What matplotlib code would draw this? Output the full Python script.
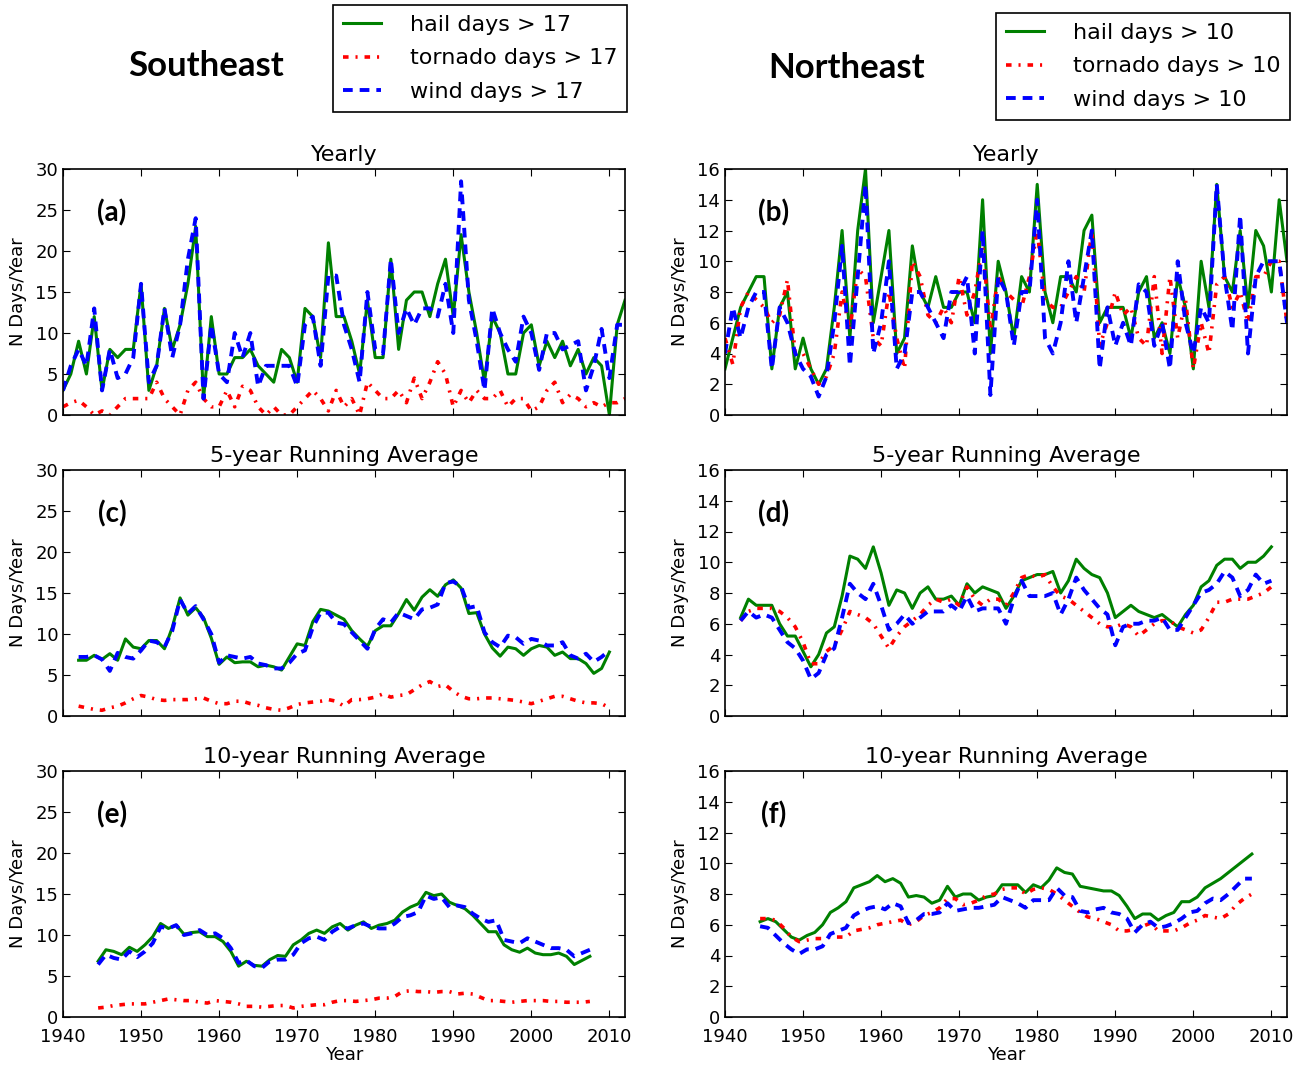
import matplotlib
matplotlib.use("Agg")
import matplotlib.pyplot as plt
import numpy as np

# ---- data -------------------------------------------------------------
years = np.arange(1940, 2013)            # yearly counts
years_5 = np.arange(1942, 2011)          # centred 5-year running mean
years_10 = np.arange(1944.5, 2008, 1.0)  # centred 10-year running mean

# Southeast, threshold 17
se_hail_yr = [3, 5, 9, 5, 12, 3, 8, 7, 8, 8,
              16, 3, 6, 13, 8, 11, 16, 23, 2, 12,
              5, 5, 7, 7, 8, 6, 5, 4, 8, 7,
              4, 13, 12, 7, 21, 12, 12, 9, 5, 14,
              7, 7, 19, 8, 14, 15, 15, 12, 16, 19,
              12, 22, 15, 10, 4, 12, 10, 5, 5, 10,
              11, 6, 9, 7, 9, 6, 8, 5, 7, 6,
              0, 11, 14]
se_torn_yr = [1, 1.5, 1.8, 1, 0, 0.5, 0, 1, 2, 2,
              2, 2, 4, 2, 1, 0, 3, 4, 2, 1,
              1, 3, 1, 3.5, 3, 1, 0, 1, 0, 0,
              1, 2, 3, 2, 0.5, 3, 1, 2, 0, 4,
              3, 2, 2, 3, 1.5, 4.5, 2, 4, 6.5, 5,
              1, 3, 1.5, 3, 2, 2, 3, 1, 2, 2,
              0.5, 1, 3, 4, 1.5, 2.5, 2, 1, 1.5, 1,
              1.5, 1.5, 2]
se_wind_yr = [3, 6, 8, 6, 13, 3, 8, 4.5, 5, 7,
              16, 4, 6, 13, 7, 11, 19, 24, 2, 11,
              5, 4, 10, 7, 10, 3.5, 6, 6, 6, 6,
              3.5, 11, 12, 6, 17, 17, 11, 8, 4, 15,
              8, 7.5, 19, 10, 13, 11, 13, 13, 12, 16,
              10, 28.5, 14, 9, 3, 13, 10, 8, 6.5, 12,
              10, 5.5, 10, 10, 8, 8.5, 9, 3, 6, 10.5,
              4.5, 11, 11]

se_hail_5 = [6.8, 6.8, 7.4, 6.9, 7.6, 6.8, 9.4, 8.4, 8.2, 9.2,
             9.2, 8.2, 10.8, 14.4, 12.3, 13.2, 12.0, 9.5, 6.3, 7.2,
             6.5, 6.6, 6.6, 6.0, 6.2, 6.0, 5.6, 7.2, 8.8, 8.6,
             11.5, 13.0, 12.8, 12.3, 11.8, 10.4, 9.4, 8.5, 10.4, 11.0,
             11.0, 12.5, 14.2, 12.9, 14.5, 15.4, 14.6, 16.0, 16.6, 15.6,
             12.5, 12.6, 10.0, 8.3, 7.3, 8.4, 8.2, 7.4, 8.2, 8.6,
             8.4, 7.4, 7.8, 7.0, 7.0, 6.4, 5.2, 5.8, 7.8]
se_torn_5 = [1.2, 1.0, 0.8, 0.7, 1.0, 1.2, 1.6, 2.1, 2.5, 2.3,
             2.0, 1.9, 2.0, 2.0, 2.0, 2.1, 2.2, 1.8, 1.5, 1.5,
             1.8, 1.8, 1.5, 1.3, 1.0, 0.8, 0.7, 1.0, 1.4, 1.6,
             1.7, 1.8, 2.0, 1.8, 1.2, 2.0, 2.0, 2.1, 2.3, 2.7,
             2.3, 2.5, 2.6, 3.2, 3.8, 4.2, 3.6, 3.8, 3.0, 2.4,
             2.1, 2.1, 2.2, 2.2, 2.1, 2.0, 1.9, 1.7, 1.5, 1.8,
             2.1, 2.4, 2.4, 2.1, 1.8, 1.6, 1.6, 1.5, 1.0]
se_wind_5 = [7.2, 7.2, 7.4, 6.9, 5.5, 7.7, 7.2, 7.0, 8.0, 9.2,
             9.0, 8.4, 10.4, 14.2, 12.5, 13.4, 11.8, 10.0, 6.5, 7.4,
             7.2, 7.0, 7.2, 6.4, 6.2, 5.8, 5.8, 6.5, 7.6, 8.0,
             10.8, 12.6, 12.6, 11.4, 11.2, 10.2, 9.2, 8.2, 10.6, 11.8,
             11.4, 12.6, 12.2, 11.8, 13.0, 13.2, 13.6, 16.2, 16.4, 15.8,
             13.2, 13.4, 10.2, 9.0, 8.4, 9.8, 9.6, 8.8, 9.4, 9.2,
             8.6, 8.6, 9.0, 7.4, 7.0, 7.6, 6.6, 7.2, 8.0]

se_hail_10 = [6.8, 8.2, 8.0, 7.6, 8.5, 8.0, 8.8, 9.8, 11.4, 10.8,
              11.2, 10.1, 10.3, 10.4, 9.8, 9.8, 9.2, 8.0, 6.2, 6.8,
              6.3, 6.2, 7.0, 7.5, 7.4, 8.8, 9.4, 10.2, 10.6, 10.2,
              11.0, 11.4, 10.6, 11.2, 11.6, 10.8, 11.2, 11.4, 11.8, 12.8,
              13.4, 13.8, 15.2, 14.8, 15.0, 14.0, 13.6, 13.2, 12.4, 11.4,
              10.4, 10.4, 8.8, 8.2, 7.9, 8.4, 7.8, 7.6, 7.6, 7.8,
              7.4, 6.4, 6.9, 7.4]
se_torn_10 = [1.1, 1.2, 1.4, 1.5, 1.6, 1.6, 1.6, 1.8, 2.0, 2.2,
              2.1, 2.0, 2.0, 1.8, 1.7, 2.0, 1.9, 1.8, 1.6, 1.3,
              1.3, 1.2, 1.3, 1.4, 1.4, 1.1, 1.3, 1.4, 1.5, 1.5,
              1.8, 2.0, 2.0, 1.9, 2.0, 2.1, 2.3, 2.3, 2.5, 3.1,
              3.2, 3.1, 3.1, 3.0, 3.1, 3.1, 2.8, 2.9, 2.8, 2.4,
              2.0, 2.0, 1.9, 1.8, 1.9, 2.0, 2.0, 2.0, 1.9, 1.9,
              1.8, 1.8, 1.8, 1.9]
se_wind_10 = [6.4, 7.6, 7.2, 7.0, 8.0, 7.3, 8.0, 9.0, 11.0, 10.8,
              11.2, 10.0, 10.2, 10.6, 10.0, 10.2, 9.6, 8.4, 6.6, 6.9,
              6.2, 6.0, 6.8, 7.0, 7.0, 7.6, 9.0, 9.6, 9.8, 9.4,
              10.4, 11.0, 10.8, 11.2, 11.4, 11.0, 10.8, 10.8, 11.4, 12.2,
              12.4, 12.8, 14.8, 14.4, 14.6, 13.4, 13.6, 13.4, 12.6, 12.0,
              11.6, 11.8, 9.4, 9.2, 9.0, 9.6, 9.2, 8.8, 8.4, 8.4,
              8.2, 7.4, 7.8, 8.2]

# Northeast, threshold 10
ne_hail_yr = [3, 5, 7, 8, 9, 9, 3, 7, 8, 3,
              5, 3, 2, 3, 7, 12, 5, 12, 16, 6,
              9, 12, 4, 5, 11, 8, 7, 9, 7, 7,
              8, 8, 6, 14, 4, 10, 8, 5, 9, 8,
              15, 8, 6, 9, 9, 8, 12, 13, 6, 7,
              7, 7, 5, 8, 9, 5, 6, 4, 9, 7,
              3, 10, 7, 15, 9, 8, 12, 7, 12, 11,
              8, 14, 10]
ne_torn_yr = [5, 3.3, 7, 8, 7.5, 7, 6, 6.5, 8.8, 4,
              4, 3, 2, 2.5, 4, 8, 5.5, 9.5, 9, 5,
              4.5, 8, 5, 3, 10, 9, 6.5, 6, 7, 6,
              9, 6.5, 8, 11, 5.5, 9, 8, 7.5, 7, 9,
              12, 7.5, 7, 7, 8, 9, 8, 12, 4.5, 6,
              8, 6.5, 7, 5, 4.5, 9, 4, 9, 5, 7.5,
              3, 6, 4, 8.5, 9, 7, 8, 6, 9, 9,
              10, 10, 6]
ne_wind_yr = [4, 7, 5, 7, 8, 8, 3, 7, 6, 4,
              3, 2.5, 1.2, 2.5, 6, 11, 3.2, 9, 15, 4,
              6, 10, 3, 4, 8, 8, 7, 6, 5, 8,
              8, 9, 4, 12, 1.3, 9, 8, 4.5, 8, 8,
              14, 5, 4, 6, 10, 6, 9, 12, 3, 7,
              4.5, 6, 4.5, 8.5, 8, 4.5, 6, 3, 10, 6,
              4, 7, 6, 15, 9, 5.5, 13, 4, 9, 10,
              10, 10, 6]

ne_hail_5 = [6.4, 7.6, 7.2, 7.2, 7.2, 6.0, 5.2, 5.2, 4.2, 3.2,
             4.0, 5.4, 5.8, 7.8, 10.4, 10.2, 9.6, 11.0, 9.3, 7.2,
             8.2, 8.0, 7.0, 8.0, 8.4, 7.6, 7.6, 7.8, 7.2, 8.6,
             8.0, 8.4, 8.2, 8.0, 7.0, 7.8, 8.8, 9.0, 9.2, 9.2,
             9.4, 8.0, 8.8, 10.2, 9.6, 9.2, 9.0, 8.0, 6.4, 6.8,
             7.2, 6.8, 6.6, 6.4, 6.6, 6.2, 5.8, 6.6, 7.2, 8.4,
             8.8, 9.8, 10.2, 10.2, 9.6, 10.0, 10.0, 10.4, 11.0]
ne_torn_5 = [6.2, 6.8, 7.0, 7.0, 7.0, 6.8, 6.4, 5.8, 4.8, 3.4,
             3.4, 4.2, 4.6, 5.6, 6.8, 6.6, 6.4, 6.0, 5.2, 4.4,
             5.2, 5.8, 6.2, 6.6, 7.2, 7.6, 7.4, 7.6, 7.2, 8.4,
             7.6, 7.2, 7.6, 7.6, 7.2, 8.0, 9.0, 9.2, 9.0, 9.2,
             8.4, 7.8, 7.6, 7.2, 6.8, 6.4, 6.0, 5.8, 5.8, 6.0,
             5.8, 5.2, 5.6, 6.0, 6.2, 6.2, 5.8, 5.6, 5.4, 5.6,
             6.4, 7.4, 7.4, 7.6, 7.6, 7.6, 7.8, 8.0, 8.4]
ne_wind_5 = [6.2, 6.8, 6.4, 6.6, 6.4, 5.6, 4.8, 4.4, 3.6, 2.4,
             2.8, 4.0, 4.4, 6.4, 8.6, 8.0, 7.6, 8.6, 7.2, 5.6,
             6.0, 6.6, 6.0, 6.4, 6.8, 6.8, 6.8, 7.2, 6.8, 7.8,
             6.8, 7.0, 7.0, 7.0, 6.0, 7.6, 8.8, 7.8, 7.8, 7.8,
             8.0, 6.6, 7.6, 9.0, 8.2, 7.6, 7.0, 6.6, 4.6, 5.8,
             6.0, 6.0, 6.2, 6.2, 6.4, 5.6, 5.6, 6.4, 7.2, 8.0,
             8.2, 8.6, 9.4, 9.0, 7.8, 8.2, 9.2, 8.6, 8.8]

ne_hail_10 = [6.2, 6.4, 6.2, 5.7, 5.2, 5.0, 5.3, 5.5, 6.0, 6.8,
              7.1, 7.5, 8.4, 8.6, 8.8, 9.2, 8.8, 9.0, 8.7, 7.8,
              7.9, 7.8, 7.4, 7.6, 8.5, 7.8, 8.0, 8.0, 7.6, 7.8,
              7.9, 8.6, 8.6, 8.6, 8.1, 8.6, 8.4, 8.9, 9.7, 9.4,
              9.3, 8.5, 8.4, 8.3, 8.2, 8.2, 7.9, 7.2, 6.4, 6.7,
              6.7, 6.3, 6.6, 6.8, 7.5, 7.5, 7.8, 8.4, 8.7, 9.0,
              9.4, 9.8, 10.2, 10.6]
ne_torn_10 = [6.4, 6.4, 6.3, 5.8, 5.2, 4.9, 5.0, 5.1, 5.1, 5.2,
              5.2, 5.2, 5.6, 5.7, 5.8, 6.0, 6.1, 6.2, 6.3, 6.0,
              6.2, 6.6, 6.8, 7.1, 7.7, 7.7, 7.3, 7.4, 7.6, 7.9,
              8.0, 8.3, 8.4, 8.4, 8.0, 8.3, 8.4, 8.3, 8.0, 7.6,
              7.2, 6.8, 6.5, 6.4, 6.2, 6.0, 5.6, 5.6, 5.7, 5.9,
              6.1, 5.6, 5.6, 5.6, 5.8, 6.1, 6.3, 6.6, 6.5, 6.4,
              6.7, 7.3, 7.7, 8.0]
ne_wind_10 = [5.9, 5.8, 5.3, 4.8, 4.4, 4.1, 4.4, 4.4, 4.6, 5.4,
              5.6, 5.8, 6.6, 6.9, 7.1, 7.2, 7.0, 7.4, 7.2, 6.1,
              6.3, 6.7, 6.7, 6.8, 7.4, 6.9, 7.0, 7.1, 7.1, 7.2,
              7.3, 7.8, 7.6, 7.4, 7.1, 7.6, 7.6, 7.6, 8.4, 7.9,
              7.8, 6.9, 6.8, 7.0, 7.1, 6.8, 6.7, 6.4, 5.5, 6.0,
              6.2, 5.8, 5.9, 6.1, 6.4, 6.8, 6.9, 7.4, 7.7, 7.6,
              8.0, 8.5, 9.0, 9.0]

# ---- style ------------------------------------------------------------
plt.rcParams.update({
    "font.family": "DejaVu Sans",
    "xtick.direction": "in",
    "ytick.direction": "in",
    "xtick.top": True,
    "ytick.right": True,
    "xtick.major.size": 5,
    "ytick.major.size": 5,
    "xtick.major.pad": 8,
    "xtick.labelsize": 13,
    "ytick.labelsize": 13,
    "axes.linewidth": 1.2,
    "lines.scale_dashes": False,
})

HAIL = dict(color="g", lw=2.2, ls="-")
TORN = dict(color="r", lw=2.6, dashes=(4, 5, 1.5, 5))
WIND = dict(color="b", lw=2.8, dashes=(7, 5))

fig = plt.figure(figsize=(13.06, 10.67), dpi=100)

col_x = [63 / 1306, 725 / 1306]
col_w = 562 / 1306
row_y = [1 - 415 / 1067, 1 - 716 / 1067, 1 - 1017 / 1067]
row_h = 246 / 1067


def draw_panel(ax, x, hail, torn, wind, title, tag, ymax, ystep, bottom):
    l1, = ax.plot(x, hail, **HAIL)
    l2, = ax.plot(x, torn, **TORN)
    l3, = ax.plot(x, wind, **WIND)
    ax.set_xlim(1940, 2012)
    ax.set_ylim(0, ymax)
    ax.set_xticks(np.arange(1940, 2011, 10))
    ax.set_yticks(np.arange(0, ymax + 1, ystep))
    ax.set_title(title, fontsize=16, pad=6)
    ax.set_ylabel("N Days/Year", fontsize=13, labelpad=6)
    if bottom:
        ax.set_xlabel("Year", fontsize=13, labelpad=0)
    else:
        ax.set_xticklabels([])
    ax.text(0.087, 0.82, tag, transform=ax.transAxes, ha="center", va="center",
            fontsize=20, fontweight="bold", family="Lato")
    return [l1, l2, l3]


panels = [
    (0, 0, years, se_hail_yr, se_torn_yr, se_wind_yr, "Yearly", "(a)", 30, 5),
    (1, 0, years, ne_hail_yr, ne_torn_yr, ne_wind_yr, "Yearly", "(b)", 16, 2),
    (0, 1, years_5, se_hail_5, se_torn_5, se_wind_5, "5-year Running Average", "(c)", 30, 5),
    (1, 1, years_5, ne_hail_5, ne_torn_5, ne_wind_5, "5-year Running Average", "(d)", 16, 2),
    (0, 2, years_10, se_hail_10, se_torn_10, se_wind_10, "10-year Running Average", "(e)", 30, 5),
    (1, 2, years_10, ne_hail_10, ne_torn_10, ne_wind_10, "10-year Running Average", "(f)", 16, 2),
]

handles = {}
for col, row, x, h, t, w, title, tag, ymax, ystep in panels:
    ax = fig.add_axes([col_x[col], row_y[row], col_w, row_h])
    lines = draw_panel(ax, x, h, t, w, title, tag, ymax, ystep, row == 2)
    handles.setdefault(col, lines)

# region headings and legends
fig.text(206 / 1306, 1 - 66 / 1067, "Southeast", ha="center", va="center",
         fontsize=25, fontweight="bold", family="Lato")
fig.text(847 / 1306, 1 - 68 / 1067, "Northeast", ha="center", va="center",
         fontsize=25, fontweight="bold", family="Lato")

leg_kw = dict(loc="upper left", fontsize=16, frameon=True, fancybox=False,
              edgecolor="black", framealpha=1, borderaxespad=0,
              handlelength=1.7, handletextpad=1.3, labelspacing=0.6,
              borderpad=0.45)
leg1 = fig.legend(handles[0], ["hail days > 17", "tornado days > 17", "wind days > 17"],
                  bbox_to_anchor=(333 / 1306, 1 - 5 / 1067), **leg_kw)
leg1.get_frame().set_linewidth(1.2)
leg2 = fig.legend(handles[1], ["hail days > 10", "tornado days > 10", "wind days > 10"],
                  bbox_to_anchor=(996 / 1306, 1 - 13 / 1067), **leg_kw)
leg2.get_frame().set_linewidth(1.2)

fig.savefig("out.png", dpi=100, facecolor="white")
